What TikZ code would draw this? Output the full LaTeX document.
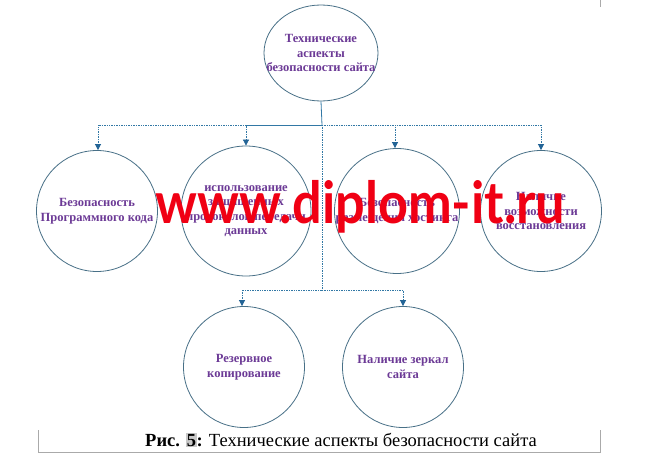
\documentclass[tikz,border=0pt]{standalone}
\usepackage{fontspec}
\usepackage{graphicx}
\setmainfont{Liberation Serif}
\newfontfamily\wmfont{Lato}
\usetikzlibrary{arrows.meta,shapes.geometric}
\definecolor{txtpurple}{RGB}{108,58,150}
\definecolor{rim}{RGB}{72,112,135}
\definecolor{conn}{RGB}{50,120,165}
\definecolor{arrowblue}{RGB}{35,100,150}
\definecolor{wmred}{RGB}{240,0,20}
\definecolor{hl}{RGB}{200,200,200}
\definecolor{boxline}{RGB}{170,170,170}
\tikzset{
  circ/.style={circle, draw=rim, line width=0.8pt, minimum size=121pt, inner sep=0pt,
    align=center, text=txtpurple, font=\fontsize{12.5}{14.5}\selectfont\bfseries},
  topell/.style={ellipse, draw=rim, line width=0.8pt, minimum width=114pt, minimum height=96pt,
    inner sep=0pt},
  toptext/.style={inner sep=0pt, align=center, text=txtpurple, font=\fontsize{12.5}{14.5}\selectfont\bfseries},
  link/.style={draw=conn, line width=0.7pt, densely dotted},
  solidlink/.style={draw=conn, line width=0.8pt},
  tip/.style={-{Triangle[length=6pt,width=6pt,color=arrowblue]}},
  frame/.style={draw=boxline, line width=0.6pt}
}
\begin{document}
\begin{tikzpicture}[x=1pt,y=-1pt]
\useasboundingbox[fill=white] (0,0) rectangle (656,460);
% nodes
\node[topell] (top) at (321,53) {};
\node[toptext] (toplabel) at (top.center) {Технические\\аспекты\\безопасности сайта};
\node[circ] (c1) at (97,211) {Безопасность\\Программного кода};
\node[circ] (c2) at (246,211) {использование\\защищенных\\протоколов передачи\\данных};
\node[circ] (c3) at (397,211) {Безопасность\\размещения хостинга};
\node[circ] (c4) at (541,211) {Наличие\\возможности\\восстановления};
\node[circ] (c5) at (244,367) {Резервное\\копирование};
\node[circ] (c6) at (403,367) {Наличие зеркал\\сайта};
\coordinate (j1) at (322,125);
\coordinate (j2) at (322,290);
% connectors
\draw[solidlink] (top.south) -- (j1);
\draw[link,tip] (j1) -| ([xshift=1pt]c1.north);
\draw[link,tip] (j1) -| (c2.north);
\draw[solidlink] (j1) -- (j1 -| c2.north);
\draw[link,tip] (j1) -| ([xshift=-2pt]c3.north);
\draw[link,tip] (j1) -| (c4.north);
\draw[link] (j1) -- (j2);
\draw[link,tip] (j2) -| ([xshift=-2pt]c5.north);
\draw[link,tip] (j2) -| (c6.north);
% watermark
\node[anchor=base west, inner sep=0pt, text=wmred, font=\wmfont\bfseries\fontsize{58}{58}\selectfont] (wm) at (155,223)
  {\resizebox{410pt}{\height}{www.diplom-it.ru}};
% caption frame
\coordinate (f1) at (38,430);
\coordinate (f2) at (38,452);
\coordinate (f3) at (600,452);
\coordinate (f4) at (600,430);
\draw[frame] (f1) -- (f2) -- (f3) -- (f4);
\coordinate (t1) at (600,0);
\coordinate (t2) at (600,7);
\draw[frame] (t1) -- (t2);
\node[anchor=base, inner sep=0pt, font=\fontsize{18.5}{20}\selectfont] (cap) at (341,446)
  {\textbf{Рис. {\setlength{\fboxsep}{0.6pt}\colorbox{hl}{5}}:} Технические аспекты безопасности сайта};
\end{tikzpicture}
\end{document}
